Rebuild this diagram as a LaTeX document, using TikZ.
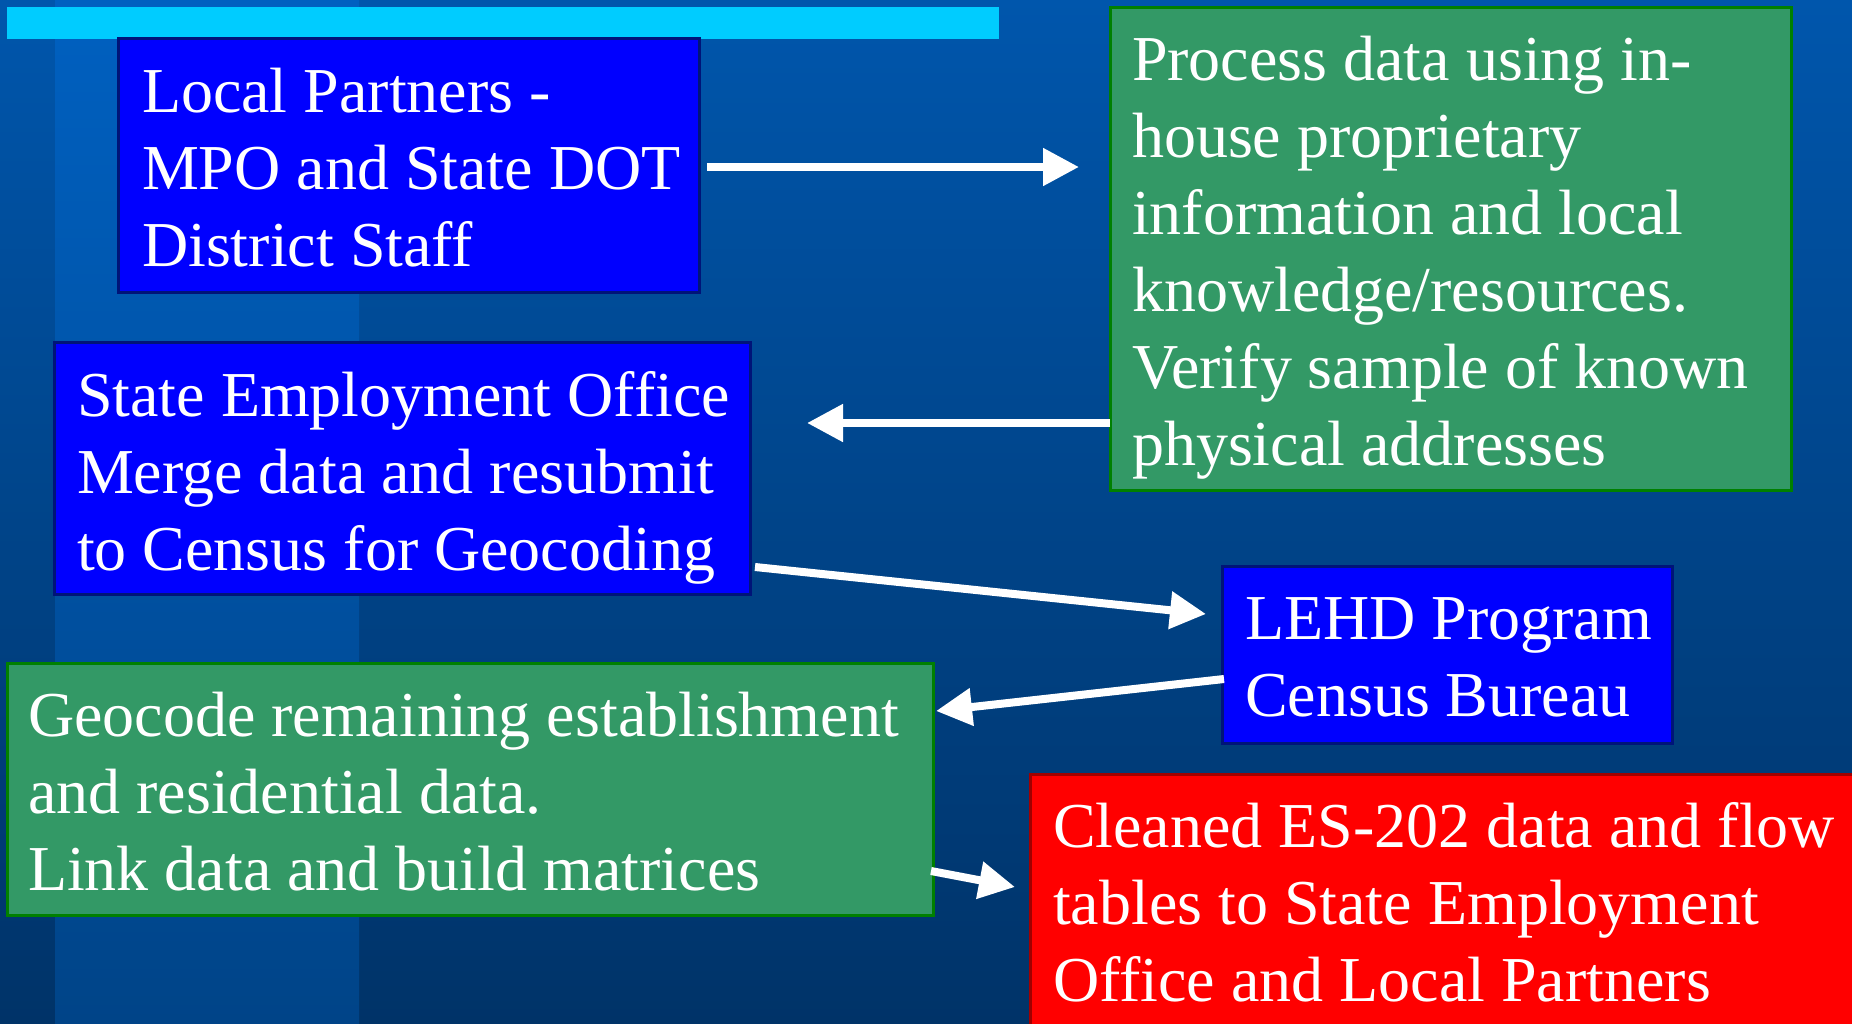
\documentclass[tikz,border=0pt]{standalone}
\usepackage{fontspec}
\setmainfont{Liberation Serif}
\usetikzlibrary{arrows.meta,calc}
\definecolor{bgtop}{RGB}{0,86,172}
\definecolor{bgbot}{RGB}{0,51,104}
\definecolor{sttop}{RGB}{0,96,192}
\definecolor{stbot}{RGB}{0,68,136}
\definecolor{barcyan}{RGB}{0,204,255}
\definecolor{boxblue}{RGB}{0,0,255}
\definecolor{boxblueedge}{RGB}{0,20,120}
\definecolor{boxgreen}{RGB}{51,153,102}
\definecolor{boxgreenedge}{RGB}{0,128,0}
\definecolor{boxred}{RGB}{255,0,0}
\definecolor{boxrededge}{RGB}{160,0,0}
\newcommand{\mylines}[1]{\parbox[t]{900pt}{\raggedright #1}}
\tikzset{
  box/.style={draw, line width=3pt, anchor=north west, inner sep=0pt, outer sep=0pt},
  bluebox/.style={box, fill=boxblue, draw=boxblueedge},
  greenbox/.style={box, fill=boxgreen, draw=boxgreenedge},
  redbox/.style={box, fill=boxred, draw=boxrededge},
  txt/.style={text=white, font=\fontsize{64}{77}\selectfont, inner sep=0pt, outer sep=0pt, anchor=base west},
  arr/.style={draw=white, line width=8pt, -{Triangle[length=36pt,width=36pt]}}
}
\begin{document}
\begin{tikzpicture}[x=1pt,y=-1pt]
\useasboundingbox (0,0) rectangle (1852,1023);
% background
\shade[top color=bgtop, bottom color=bgbot] (0,0) rectangle (1852,1023);
\shade[top color=sttop, bottom color=stbot] (55,0) rectangle (359,1023);
\fill[barcyan] (7,7) rectangle (999,39);
% boxes
\node[bluebox, minimum width=581pt, minimum height=254pt] (lp) at (118,38) {};
\node[greenbox, minimum width=681pt, minimum height=483pt] (gp) at (1110,7) {};
\node[bluebox, minimum width=696pt, minimum height=252pt] (se) at (54,342) {};
\node[bluebox, minimum width=450pt, minimum height=177pt] (le) at (1222,566) {};
\node[greenbox, minimum width=926pt, minimum height=252pt] (gg) at (7,663) {};
\node[redbox, minimum width=840pt, minimum height=270pt] (rd) at (1030,774) {};
% texts
\node[txt] (lpt) at ($(lp.north west)+(24,74)$) {\mylines{Local Partners -\\MPO and State DOT\\District Staff}};
\node[txt] (gpt) at ($(gp.north west)+(22,73)$) {\mylines{Process data using in-\\house proprietary\\information and local\\knowledge/resources.\\Verify sample of known\\physical addresses}};
\node[txt] (set) at ($(se.north west)+(23,74)$) {\mylines{State Employment Office\\Merge data and resubmit\\to Census for Geocoding}};
\node[txt] (let) at ($(le.north west)+(23,73)$) {\mylines{LEHD Program\\Census Bureau}};
\node[txt] (ggt) at ($(gg.north west)+(21,73)$) {\mylines{Geocode remaining establishment\\and residential data.\\Link data and build matrices}};
\node[txt] (rdt) at ($(rd.north west)+(23,73)$) {\mylines{Cleaned ES-202 data and flow\\tables to State Employment\\Office and Local Partners}};
% connectors
\draw[arr] ($(lp.north east)+(8,129)$) -- ($(gp.north west)+(-31,160)$);
\draw[arr] ($(gp.north west)+(0,416)$) -- ($(se.north east)+(57,81)$);
\draw[arr] ($(se.north east)+(5,225)$) -- ($(le.north west)+(-16,48)$);
\draw[arr] ($(le.north west)+(2,113)$) -- ($(gg.north east)+(3,48)$);
\draw[arr] ($(gg.north east)+(-2,208)$) -- ($(rd.north west)+(-15,113)$);
\end{tikzpicture}
\end{document}
